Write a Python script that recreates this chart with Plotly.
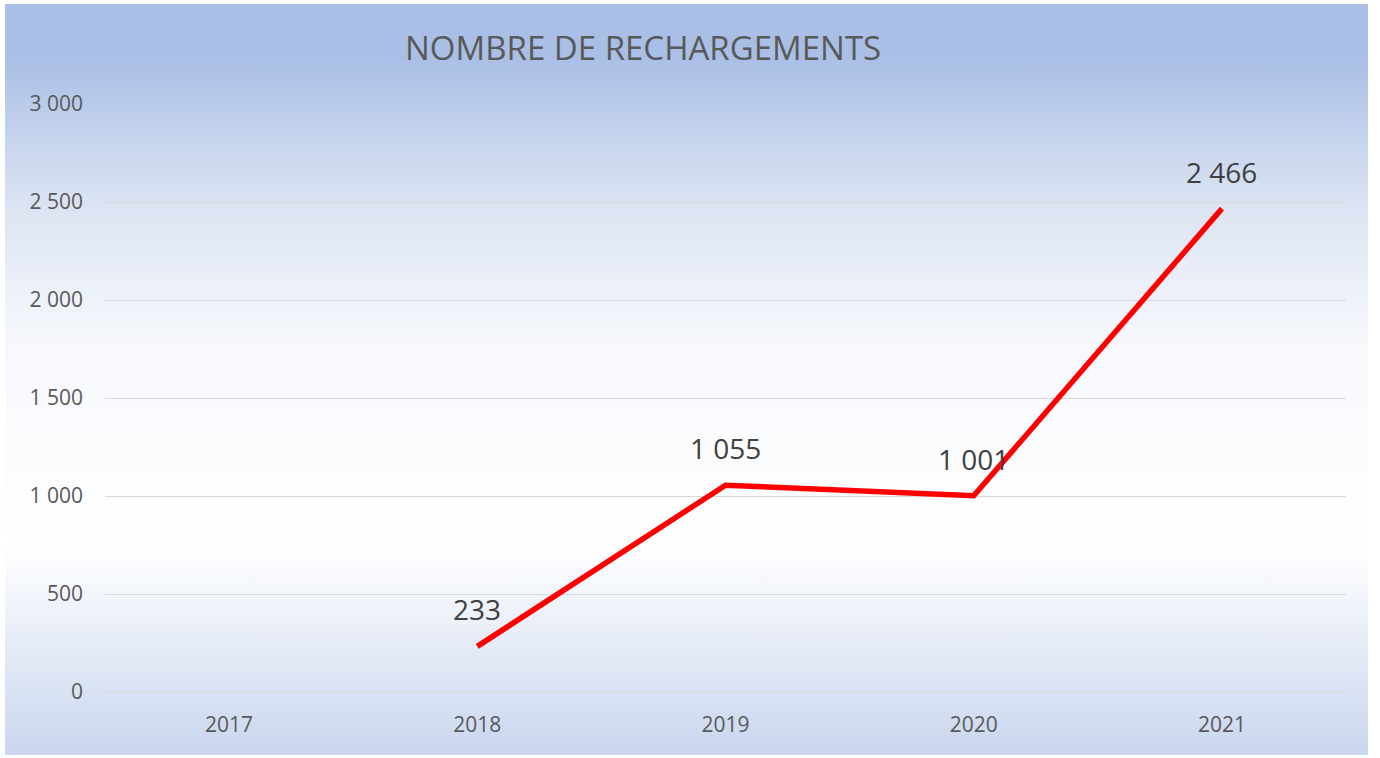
import base64
import plotly.graph_objects as go

# ---- data ----
years = ["2017", "2018", "2019", "2020", "2021"]
recharges = [None, 233, 1055, 1001, 2466]
labels = ["", "233", "1 055", "1 001", "2 466"]
y_ticks = [0, 500, 1000, 1500, 2000, 2500, 3000]
title_text = "NOMBRE DE RECHARGEMENTS"

# ---- layout geometry (px) ----
W, H = 1380, 758
L, R, T, B = 105, 34, 104, 66
pw, ph = W - L - R, H - T - B


def px_to_paper_x(px):
    return (px - L) / pw


def px_to_paper_y(py):
    return (H - B - py) / ph


# gradient background for the chart area
svg = """<svg xmlns='http://www.w3.org/2000/svg' width='100' height='100' preserveAspectRatio='none'>
<defs><linearGradient id='g' x1='0' y1='0' x2='0' y2='1'>
<stop offset='0' stop-color='#AABFE6'/>
<stop offset='0.07' stop-color='#AABFE6'/>
<stop offset='0.27' stop-color='#DCE4F3'/>
<stop offset='0.45' stop-color='#F6F8FC'/>
<stop offset='0.72' stop-color='#FFFFFF'/>
<stop offset='1' stop-color='#C9D6EE'/>
</linearGradient></defs>
<rect width='100' height='100' fill='url(#g)'/></svg>"""
src = "data:image/svg+xml;base64," + base64.b64encode(svg.encode()).decode()

cx0, cx1, cy0, cy1 = 5, 1368, 4, 755

fig = go.Figure()
fig.add_trace(go.Scatter(
    x=years, y=recharges, mode="lines",
    line=dict(color="#FF0000", width=5.5),
    connectgaps=False, hoverinfo="skip", showlegend=False,
))

annotations = [dict(
    text=title_text, xref="paper", yref="paper",
    x=px_to_paper_x(643), y=px_to_paper_y(48),
    xanchor="center", yanchor="middle", showarrow=False,
    font=dict(family="Open Sans", size=33, color="#595959"),
)]
for i, (v, lab) in enumerate(zip(recharges, labels)):
    if v is None:
        continue
    annotations.append(dict(
        xref="x", yref="y", x=i, y=v, text=lab, showarrow=False, yshift=37,
        xanchor="center", yanchor="middle",
        font=dict(family="Open Sans", size=28, color="#404040"),
    ))

fig.update_layout(
    width=W, height=H,
    margin=dict(l=L, r=R, t=T, b=B),
    paper_bgcolor="white",
    plot_bgcolor="rgba(0,0,0,0)",
    separators=", ",
    font=dict(family="Open Sans", color="#595959"),
    images=[dict(
        source=src, xref="paper", yref="paper",
        x=px_to_paper_x(cx0), y=px_to_paper_y(cy0),
        sizex=px_to_paper_x(cx1) - px_to_paper_x(cx0),
        sizey=px_to_paper_y(cy0) - px_to_paper_y(cy1),
        xanchor="left", yanchor="top", sizing="stretch", layer="below",
    )],
    annotations=annotations,
    xaxis=dict(
        type="category", range=[-0.5, 4.5],
        showgrid=False, zeroline=False, showline=False,
        ticks="", ticklabelstandoff=18,
        tickfont=dict(size=21, color="#595959"),
    ),
    yaxis=dict(
        range=[0, 3000], tickvals=y_ticks, tickformat=",d",
        showgrid=True, gridcolor="#D9D9D9", gridwidth=1.3,
        zeroline=True, zerolinecolor="#D9D9D9", zerolinewidth=1.3,
        showline=False, ticks="", ticklabelstandoff=21,
        tickfont=dict(size=21, color="#595959"),
    ),
)

fig.write_html(
    "out.html",
    config={"displayModeBar": False},
    post_script="document.body.style.margin='0';document.body.style.overflow='hidden';",
)
